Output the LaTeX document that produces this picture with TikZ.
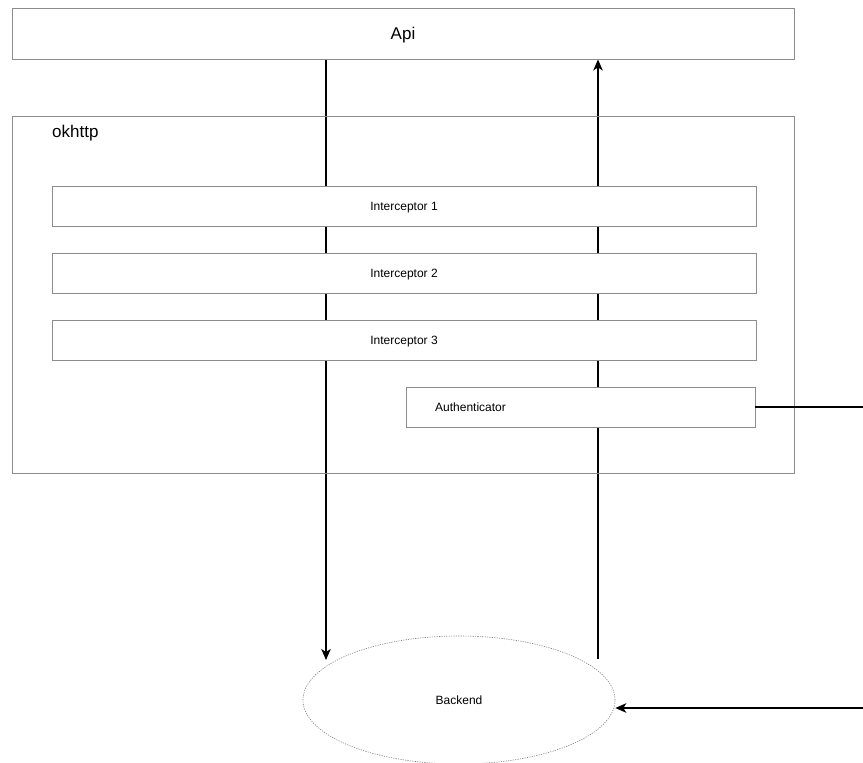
\documentclass[tikz,border=0pt]{standalone}
\usepackage{fontspec}
\setmainfont{Liberation Sans}
\usetikzlibrary{arrows.meta,shapes.geometric}
\definecolor{boxgray}{rgb}{0.55,0.55,0.55}
\definecolor{dotgray}{rgb}{0.5,0.5,0.5}
\pgfdeclarelayer{bg}
\pgfsetlayers{bg,main}
\tikzset{
  bigbox/.style={draw=boxgray,line width=0.9pt,minimum width=782pt,inner sep=0pt},
  layerbox/.style={draw=boxgray,line width=0.9pt,fill=white,minimum width=704pt,minimum height=40pt,inner sep=0pt,
    font=\fontsize{12}{14}\selectfont,text height=8.6pt,text depth=0pt},
  flow/.style={line width=1.5pt,black},
  bigtext/.style={font=\fontsize{17}{20}\selectfont,inner sep=0pt,text height=12.2pt,text depth=0pt},
  smalltext/.style={font=\fontsize{12}{14}\selectfont,inner sep=0pt,text height=8.6pt,text depth=0pt}
}
\begin{document}
\begin{tikzpicture}[line cap=butt,line join=miter,>={Stealth[length=11pt,width=9.5pt,inset=3pt]},x=1pt,y=-1pt]
  \useasboundingbox (0,0) rectangle (863,763);
  % boxes
  \node [bigbox,minimum height=51pt,bigtext] (api) at (403,33.5) {Api};
  \node [bigbox,minimum height=357pt,anchor=north west] (okhttp) at (12,116) {};
  \node [bigtext,anchor=west] (okhttplabel) at (52,131) {okhttp};
  \node [layerbox] (icpt1) at (404,206.5) {Interceptor 1};
  \node [layerbox] (icpt2) at (404,273) {Interceptor 2};
  \node [layerbox] (icpt3) at (404,340) {Interceptor 3};
  \node [layerbox,minimum width=349pt] (auth) at (580.5,407) {};
  \node [smalltext,anchor=west] (authlabel) at (435,407) {Authenticator};
  \node [ellipse,draw=dotgray,line width=0.6pt,dash pattern=on 1.2pt off 1.2pt,
         minimum width=312pt,minimum height=128pt,inner sep=0pt,smalltext] (backend) at (459,700) {Backend};
  % free ends
  \coordinate (down) at (326,660);
  \coordinate (upfoot) at (598,659);
  \coordinate (authout) at (863,407);
  \coordinate (backin) at (863,708);
  % connectors
  \begin{pgfonlayer}{bg}
    \draw [flow,->] (api.south -| down) -- (down);
    \draw [flow,->] (upfoot) -- (upfoot |- api.south);
  \end{pgfonlayer}
  \draw [flow] (auth.east) -- (authout);
  \draw [flow,->] (backin) -- (backend.east |- backin);
\end{tikzpicture}
\end{document}
